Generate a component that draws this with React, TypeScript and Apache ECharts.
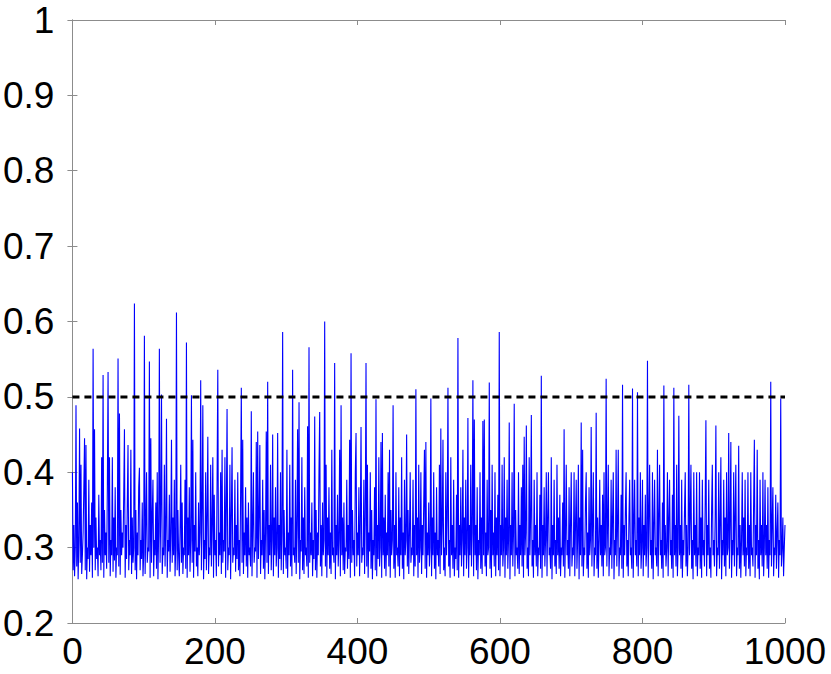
import React, { useEffect, useRef } from "react";
import * as echarts from "echarts";

// y values sampled at x = 0, 1, 2, ... 1000 (rows of 50)
const row00 = [0.40,0.27,0.33,0.262,0.30,0.489,0.275,0.36,0.258,0.31,0.458,0.28,0.41,0.265,0.29,0.32,0.38,0.445,0.27,0.436,0.258,0.30,0.285,0.39,0.268,0.33,0.29,0.36,0.26,0.564,0.30,0.457,0.27,0.34,0.285,0.30,0.262,0.37,0.29,0.31,0.27,0.42,0.28,0.529,0.26,0.35,0.29,0.32,0.272,0.38];
const row01 = [0.533,0.28,0.42,0.262,0.31,0.29,0.42,0.268,0.34,0.283,0.38,0.26,0.30,0.29,0.551,0.275,0.478,0.264,0.35,0.29,0.32,0.30,0.37,0.457,0.26,0.33,0.285,0.36,0.436,0.27,0.31,0.29,0.43,0.265,0.34,0.28,0.30,0.624,0.27,0.35,0.258,0.32,0.29,0.38,0.406,0.27,0.31,0.285,0.36,0.262];
const row02 = [0.29,0.581,0.265,0.33,0.40,0.28,0.30,0.295,0.547,0.26,0.445,0.28,0.34,0.39,0.262,0.31,0.29,0.36,0.272,0.40,0.258,0.32,0.564,0.28,0.35,0.503,0.265,0.30,0.29,0.41,0.275,0.33,0.471,0.26,0.31,0.295,0.37,0.268,0.32,0.443,0.28,0.34,0.29,0.39,0.262,0.30,0.612,0.27,0.35,0.29];
const row03 = [0.262,0.32,0.41,0.28,0.36,0.265,0.30,0.29,0.39,0.272,0.572,0.26,0.34,0.29,0.38,0.268,0.31,0.502,0.28,0.443,0.26,0.33,0.295,0.40,0.275,0.30,0.262,0.36,0.29,0.32,0.522,0.27,0.35,0.489,0.258,0.31,0.285,0.40,0.27,0.34,0.447,0.265,0.30,0.29,0.41,0.275,0.33,0.42,0.26,0.37];
const row04 = [0.29,0.31,0.262,0.39,0.536,0.275,0.32,0.29,0.40,0.265,0.43,0.28,0.31,0.295,0.42,0.26,0.35,0.484,0.27,0.30,0.29,0.41,0.258,0.34,0.433,0.28,0.30,0.29,0.39,0.268,0.33,0.285,0.40,0.27,0.31,0.262,0.37,0.512,0.28,0.443,0.265,0.32,0.29,0.38,0.275,0.34,0.26,0.36,0.29,0.30];
const row05 = [0.275,0.481,0.262,0.33,0.40,0.28,0.30,0.295,0.44,0.26,0.454,0.285,0.34,0.436,0.265,0.31,0.29,0.39,0.272,0.35,0.258,0.32,0.454,0.28,0.52,0.265,0.33,0.29,0.41,0.27,0.31,0.45,0.262,0.34,0.29,0.38,0.275,0.30,0.452,0.26,0.33,0.285,0.40,0.27,0.32,0.586,0.265,0.35,0.29,0.30];
const row06 = [0.272,0.43,0.26,0.32,0.29,0.41,0.275,0.34,0.262,0.536,0.29,0.30,0.28,0.39,0.265,0.33,0.457,0.28,0.493,0.258,0.31,0.295,0.42,0.27,0.34,0.265,0.38,0.29,0.30,0.275,0.461,0.26,0.566,0.28,0.32,0.29,0.36,0.262,0.31,0.285,0.474,0.27,0.35,0.26,0.32,0.29,0.40,0.48,0.275,0.33];
const row07 = [0.262,0.36,0.29,0.31,0.60,0.275,0.41,0.26,0.34,0.29,0.38,0.272,0.32,0.265,0.43,0.29,0.30,0.28,0.545,0.258,0.33,0.29,0.37,0.275,0.31,0.43,0.262,0.489,0.29,0.34,0.27,0.36,0.265,0.30,0.295,0.39,0.272,0.33,0.285,0.443,0.26,0.558,0.28,0.35,0.29,0.31,0.262,0.40,0.452,0.275];
const row08 = [0.32,0.29,0.38,0.262,0.33,0.46,0.28,0.30,0.29,0.39,0.265,0.34,0.545,0.275,0.41,0.26,0.32,0.295,0.40,0.272,0.35,0.258,0.31,0.29,0.38,0.27,0.497,0.262,0.33,0.285,0.42,0.275,0.30,0.44,0.26,0.452,0.29,0.34,0.272,0.37,0.262,0.32,0.29,0.40,0.275,0.43,0.26,0.35,0.29,0.31];
const row09 = [0.489,0.272,0.33,0.26,0.40,0.29,0.30,0.275,0.38,0.262,0.34,0.29,0.42,0.272,0.32,0.258,0.39,0.29,0.31,0.45,0.275,0.35,0.265,0.32,0.40,0.28,0.30,0.29,0.39,0.262,0.33,0.275,0.51,0.29,0.34,0.26,0.41,0.28,0.30,0.40,0.265,0.33,0.29,0.36,0.43,0.272,0.44,0.26,0.32,0.29];
const row10 = [0.36,0.275,0.30,0.498,0.262,0.34,0.29,0.40,0.272,0.32,0.258,0.38,0.29,0.31,0.275,0.41,0.265,0.458,0.29,0.33,0.443,0.27,0.30,0.262,0.40,0.29,0.34,0.512,0.275,0.31,0.26,0.42,0.29,0.33,0.272,0.39,0.262,0.30,0.285,0.37,0.27,0.578,0.26,0.33,0.29,0.38,0.275,0.31,0.43,0.262];
const row11 = [0.34,0.29,0.39,0.272,0.30,0.472,0.26,0.33,0.29,0.41,0.275,0.32,0.522,0.262,0.47,0.29,0.33,0.27,0.38,0.258,0.31,0.29,0.40,0.272,0.34,0.265,0.468,0.29,0.47,0.275,0.32,0.262,0.39,0.29,0.30,0.519,0.272,0.35,0.26,0.41,0.29,0.32,0.275,0.40,0.262,0.34,0.29,0.37,0.27,0.586];
const row12 = [0.262,0.33,0.29,0.41,0.275,0.30,0.42,0.26,0.34,0.29,0.39,0.272,0.31,0.466,0.258,0.33,0.29,0.40,0.275,0.32,0.491,0.262,0.35,0.29,0.30,0.272,0.40,0.265,0.33,0.29,0.38,0.275,0.41,0.26,0.447,0.29,0.32,0.462,0.272,0.30,0.262,0.42,0.29,0.34,0.476,0.275,0.31,0.26,0.39,0.29];
const row13 = [0.33,0.275,0.40,0.262,0.30,0.29,0.37,0.272,0.528,0.26,0.33,0.29,0.38,0.275,0.31,0.40,0.262,0.34,0.40,0.29,0.30,0.272,0.42,0.258,0.33,0.29,0.39,0.275,0.31,0.265,0.41,0.29,0.34,0.272,0.37,0.262,0.30,0.29,0.36,0.275,0.457,0.26,0.32,0.41,0.29,0.31,0.272,0.38,0.262,0.33];
const row14 = [0.40,0.275,0.30,0.29,0.40,0.262,0.33,0.39,0.272,0.31,0.41,0.258,0.34,0.29,0.466,0.275,0.43,0.262,0.30,0.29,0.36,0.40,0.272,0.32,0.26,0.38,0.29,0.31,0.46,0.275,0.33,0.40,0.262,0.30,0.29,0.479,0.272,0.34,0.26,0.31,0.39,0.29,0.33,0.275,0.37,0.262,0.40,0.29,0.30,0.524];
const row15 = [0.275,0.33,0.41,0.262,0.30,0.29,0.39,0.272,0.34,0.40,0.258,0.31,0.29,0.43,0.275,0.33,0.43,0.262,0.30,0.29,0.37,0.272,0.516,0.26,0.33,0.29,0.35,0.40,0.275,0.31,0.262,0.34,0.39,0.29,0.30,0.272,0.511,0.26,0.33,0.39,0.29,0.31,0.275,0.506,0.262,0.34,0.29,0.40,0.272,0.30];
const row16 = [0.39,0.262,0.33,0.29,0.37,0.275,0.30,0.548,0.26,0.34,0.41,0.29,0.31,0.272,0.40,0.258,0.33,0.39,0.29,0.30,0.275,0.43,0.262,0.34,0.41,0.29,0.31,0.272,0.36,0.26,0.515,0.29,0.33,0.275,0.30,0.40,0.262,0.34,0.39,0.29,0.31,0.272,0.37,0.26,0.512,0.29,0.33,0.275,0.41,0.262];
const row17 = [0.30,0.475,0.29,0.33,0.272,0.39,0.26,0.31,0.29,0.35,0.40,0.275,0.33,0.262,0.30,0.516,0.29,0.34,0.41,0.272,0.31,0.258,0.40,0.29,0.33,0.275,0.40,0.262,0.30,0.29,0.40,0.272,0.34,0.26,0.39,0.29,0.31,0.275,0.36,0.469,0.262,0.33,0.29,0.39,0.272,0.30,0.26,0.35,0.41,0.29];
const row18 = [0.31,0.275,0.34,0.462,0.262,0.30,0.29,0.40,0.272,0.33,0.42,0.258,0.31,0.29,0.39,0.275,0.34,0.262,0.40,0.29,0.30,0.452,0.272,0.33,0.44,0.26,0.31,0.29,0.40,0.275,0.34,0.41,0.262,0.30,0.29,0.435,0.272,0.33,0.26,0.31,0.40,0.29,0.34,0.275,0.39,0.262,0.30,0.29,0.40,0.272];
const row19 = [0.33,0.262,0.40,0.29,0.30,0.275,0.36,0.443,0.26,0.33,0.29,0.43,0.272,0.31,0.258,0.39,0.29,0.33,0.275,0.40,0.262,0.30,0.39,0.29,0.33,0.272,0.38,0.26,0.31,0.29,0.52,0.275,0.33,0.38,0.262,0.30,0.29,0.37,0.272,0.32,0.36,0.26,0.31,0.29,0.498,0.275,0.30,0.34,0.262,0.30,0.33];

const seriesValues = [
  ...row00, ...row01, ...row02, ...row03, ...row04,
  ...row05, ...row06, ...row07, ...row08, ...row09,
  ...row10, ...row11, ...row12, ...row13, ...row14,
  ...row15, ...row16, ...row17, ...row18, ...row19,
];

const thresholdValue = 0.5;
const xRange = [0, 1000];
const yRange = [0.2, 1];

const FONT = '"Liberation Sans", Arial, sans-serif';
const AXIS_GRAY = "#8c8c8c";

export default function App() {
  const ref = useRef<HTMLDivElement>(null);
  useEffect(() => {
    if (!ref.current) return;
    const chart = echarts.init(ref.current, null, { renderer: "svg" });
    const lineData = seriesValues.map((v, i) => [i, v]);
    const labelStyle = { fontFamily: FONT, fontSize: 37, color: "#000" };
    const hiddenAxis = {
      show: true,
      axisLine: { show: true, lineStyle: { color: AXIS_GRAY, width: 1 } },
      axisTick: { show: true, inside: true, length: 5, lineStyle: { color: AXIS_GRAY } },
      axisLabel: { show: false },
      splitLine: { show: false },
    };
    chart.setOption({
      animation: false,
      backgroundColor: "#fff",
      grid: { left: 71, right: 46, top: 20, bottom: 51, containLabel: false },
      xAxis: [
        {
          type: "value",
          min: xRange[0],
          max: xRange[1],
          interval: 200,
          axisLine: { show: true, lineStyle: { color: AXIS_GRAY, width: 1 } },
          axisTick: { show: true, inside: true, length: 5, lineStyle: { color: AXIS_GRAY } },
          axisLabel: { ...labelStyle, margin: 10, formatter: (v: number) => String(v) },
          splitLine: { show: false },
        },
        { type: "value", position: "top", min: xRange[0], max: xRange[1], interval: 200, ...hiddenAxis },
      ],
      yAxis: [
        {
          type: "value",
          min: yRange[0],
          max: yRange[1],
          interval: 0.1,
          axisLine: { show: true, lineStyle: { color: AXIS_GRAY, width: 1 } },
          axisTick: { show: true, inside: true, length: 5, lineStyle: { color: AXIS_GRAY } },
          axisLabel: {
            ...labelStyle,
            margin: 18,
            formatter: (v: number) => (Math.abs(v - 1) < 1e-9 ? "1" : String(Math.round(v * 10) / 10)),
          },
          splitLine: { show: false },
        },
        { type: "value", position: "right", min: yRange[0], max: yRange[1], interval: 0.1, ...hiddenAxis },
      ],
      series: [
        {
          type: "line",
          data: lineData,
          showSymbol: false,
          symbol: "none",
          lineStyle: { color: "#0000ff", width: 1.1 },
          z: 2,
        },
        {
          type: "line",
          data: [[xRange[0], thresholdValue], [xRange[1], thresholdValue]],
          showSymbol: false,
          symbol: "none",
          lineStyle: { color: "#000", width: 3, type: [7, 5] },
          z: 3,
        },
      ],
    });
    return () => chart.dispose();
  }, []);
  return (
    <div
      ref={ref}
      style={{ position: "fixed", left: 0, top: 0, width: 831, height: 674, background: "#fff" }}
    />
  );
}
